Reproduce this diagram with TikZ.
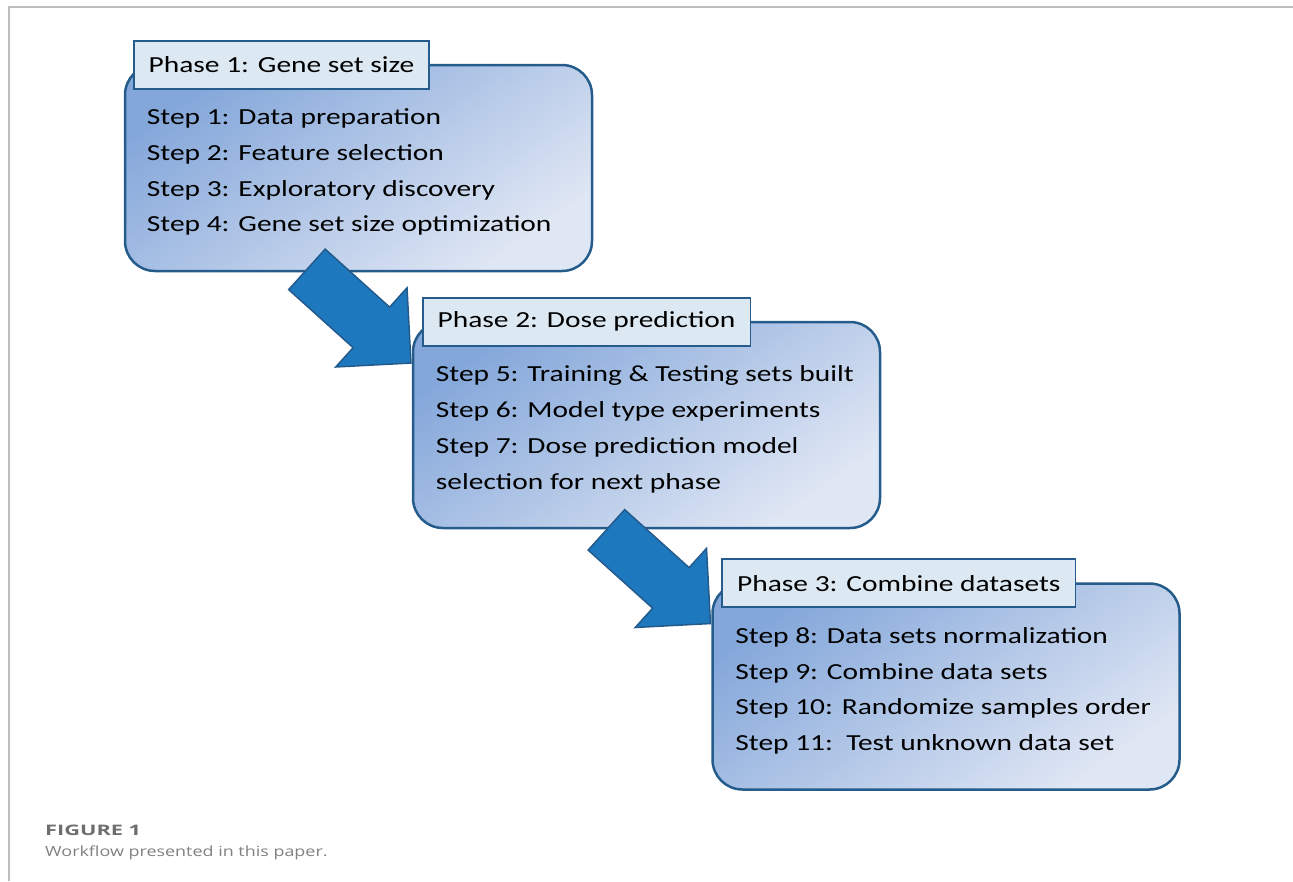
\documentclass[tikz,border=0pt]{standalone}
\usepackage{fontspec}
\setmainfont{Carlito}[FakeStretch=1.28]
\newfontfamily\capfont{Open Sans}[FakeStretch=1.28]
\newfontfamily\capbold{Open Sans}[FakeStretch=1.5]
\usetikzlibrary{positioning}
\usetikzlibrary{calc}
\usetikzlibrary{shapes.arrows}

\definecolor{boxdark}{RGB}{132,167,218}
\definecolor{boxlight}{RGB}{224,231,244}
\definecolor{boxline}{RGB}{38,92,140}
\definecolor{titlefill}{RGB}{220,232,242}
\definecolor{arrowfill}{RGB}{30,120,190}
\definecolor{arrowline}{RGB}{35,90,140}
\definecolor{framegray}{RGB}{190,190,190}
\definecolor{capgray}{RGB}{110,110,110}
\definecolor{captext}{RGB}{128,128,128}

\begin{document}
\begin{tikzpicture}[x=1pt, y=-1pt,
  phase/.style={draw=boxline, line width=2.5pt, rounded corners=30pt,
    minimum width=467pt, minimum height=206pt,
    top color=boxdark, bottom color=boxlight, shading angle=35},
  title/.style={draw=boxline, line width=1.8pt, fill=titlefill, anchor=south west,
    minimum height=48pt, inner xsep=15pt, font=\fontsize{23}{28}\selectfont},
  steps/.style={anchor=north west, align=left, inner sep=0pt,
    font=\fontsize{23}{35.7}\selectfont},
  bigarrow/.style={single arrow, draw=arrowline, line width=1.5pt, fill=arrowfill,
    minimum height=140pt, minimum width=105pt, single arrow head extend=26pt,
    text height=53pt, text depth=0pt, inner sep=0pt, rotate=-42, anchor=tip}]
\useasboundingbox (0,0) rectangle (1293,881);

% page frame
\draw[framegray, line width=1.2pt] (9,881) -- (9,7) -- (1293,7);

% phase 1
\node[phase] (phaseA) at (358.5,168) {};
\node[title] (titleA) at ([shift={(9pt,-26pt)}]phaseA.north west) {Phase 1: Gene set size};
\node[steps] (stepsA) at ([shift={(14pt,-19pt)}]titleA.south west)
  {Step 1: Data preparation\\Step 2: Feature selection\\Step 3: Exploratory discovery\\Step 4: Gene set size optimization};

% phase 2
\node[phase] (phaseB) at (646.5,425) {};
\node[bigarrow] (flowAB) at ([yshift=-43pt]phaseB.north west) {};
\node[title] (titleB) at ([shift={(10pt,-26pt)}]phaseB.north west) {Phase 2: Dose prediction};
\node[steps] (stepsB) at ([shift={(14pt,-19pt)}]titleB.south west)
  {Step 5: Training \& Testing sets built\\Step 6: Model type experiments\\Step 7: Dose prediction model\\selection for next phase};

% phase 3
\node[phase] (phaseC) at (946,686.5) {};
\node[bigarrow] (flowBC) at ([yshift=-42pt]phaseC.north west) {};
\node[title] (titleC) at ([shift={(10pt,-26pt)}]phaseC.north west) {Phase 3: Combine datasets};
\node[steps] (stepsC) at ([shift={(14pt,-19pt)}]titleC.south west)
  {Step 8: Data sets normalization\\Step 9: Combine data sets\\Step 10: Randomize samples order\\Step 11:\ \ Test unknown data set};

% caption
\node[anchor=base west, inner sep=0pt, text=capgray, font=\capbold\bfseries\fontsize{14.5}{16}\selectfont] (figlabel) at (45,835) {FIGURE 1};
\node[anchor=base west, inner sep=0pt, text=captext, font=\capfont\fontsize{14}{16}\selectfont] (figtext) at (45,856) {Workflow presented in this paper.};
\end{tikzpicture}
\end{document}
